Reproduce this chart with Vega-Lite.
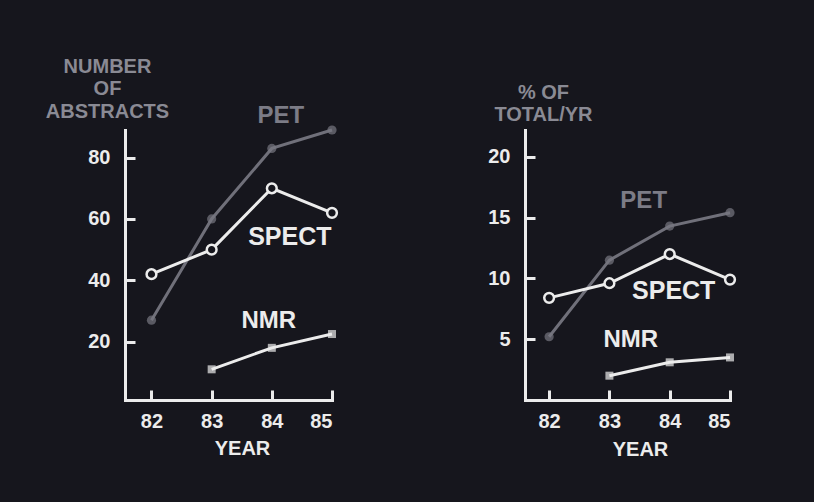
{
  "$schema": "https://vega.github.io/schema/vega-lite/v6.json",
  "background": "#16161d",
  "padding": {"left": 45, "top": 56, "right": 90, "bottom": 50},
  "bounds": "flush",
  "spacing": 193,
  "datasets": {
    "abstracts": [
      {"series": "PET", "year": 82, "value": 27},
      {"series": "PET", "year": 83, "value": 60},
      {"series": "PET", "year": 84, "value": 83},
      {"series": "PET", "year": 85, "value": 89},
      {"series": "SPECT", "year": 82, "value": 42},
      {"series": "SPECT", "year": 83, "value": 50},
      {"series": "SPECT", "year": 84, "value": 70},
      {"series": "SPECT", "year": 85, "value": 62},
      {"series": "NMR", "year": 83, "value": 11},
      {"series": "NMR", "year": 84, "value": 18},
      {"series": "NMR", "year": 85, "value": 22.5}
    ],
    "percent": [
      {"series": "PET", "year": 82, "value": 5.2},
      {"series": "PET", "year": 83, "value": 11.5},
      {"series": "PET", "year": 84, "value": 14.3},
      {"series": "PET", "year": 85, "value": 15.4},
      {"series": "SPECT", "year": 82, "value": 8.4},
      {"series": "SPECT", "year": 83, "value": 9.6},
      {"series": "SPECT", "year": 84, "value": 12},
      {"series": "SPECT", "year": 85, "value": 9.9},
      {"series": "NMR", "year": 83, "value": 2},
      {"series": "NMR", "year": 84, "value": 3.1},
      {"series": "NMR", "year": 85, "value": 3.5}
    ]
  },
  "config": {
    "view": {"stroke": null},
    "font": "Liberation Sans",
    "axis": {
      "grid": false,
      "domainColor": "#ececec",
      "domainWidth": 3,
      "domainCap": "square",
      "tickColor": "#ececec",
      "tickWidth": 3,
      "tickSize": -10,
      "labelColor": "#ececec",
      "labelFont": "Liberation Sans",
      "labelFontWeight": "bold",
      "labelFontSize": 20,
      "titleFont": "Liberation Sans",
      "titleFontWeight": "bold",
      "titleFontSize": 20,
      "titleAngle": 0,
      "titleAlign": "center",
      "titleBaseline": "middle"
    },
    "text": {"font": "Liberation Sans", "fontWeight": "bold", "fontSize": 24, "align": "center", "baseline": "middle"}
  },
  "hconcat": [
    {
      "width": 207,
      "height": 270,
      "data": {"name": "abstracts"},
      "encoding": {
        "x": {"field": "year", "type": "quantitative",
          "scale": {"domain": [81.56, 85], "nice": false, "zero": false},
          "axis": {"values": [82, 83, 84, 85], "format": "d", "labelPadding": 21, "title": "YEAR", "titleColor": "#ececec", "titleX": 117, "titleY": 48}},
        "y": {"field": "value", "type": "quantitative",
          "scale": {"domain": [1, 89], "nice": false, "zero": false},
          "axis": {"values": [20, 40, 60, 80], "labelPadding": 25, "title": ["NUMBER", "OF", "ABSTRACTS"], "titleColor": "#8a8a94", "titleX": -18, "titleY": -64, "titleLineHeight": 22.5, "titleFontSize": 20}}
      },
      "layer": [
        {"mark": {"type": "line", "strokeWidth": 3},
          "encoding": {"detail": {"field": "series"},
            "color": {"field": "series", "legend": null, "scale": {"domain": ["PET", "SPECT", "NMR"], "range": ["#70707a", "#ececec", "#ececec"]}}}},
        {"transform": [{"filter": "datum.series === 'PET'"}],
          "mark": {"type": "point", "shape": "circle", "filled": true, "size": 85, "color": "#787882"}},
        {"transform": [{"filter": "datum.series === 'SPECT'"}],
          "mark": {"type": "point", "shape": "circle", "filled": false, "size": 95, "stroke": "#ececec", "strokeWidth": 2.5, "fill": "#16161d", "fillOpacity": 1}},
        {"transform": [{"filter": "datum.series === 'NMR'"}],
          "mark": {"type": "point", "shape": "square", "filled": true, "size": 64, "color": "#ececec"}},
        {"transform": [{"filter": "datum.series === 'PET' && datum.year === 84"}],
          "mark": {"type": "text", "dx": 9, "dy": -32, "color": "#7c7c86"},
          "encoding": {"text": {"field": "series"}}},
        {"transform": [{"filter": "datum.series === 'SPECT' && datum.year === 84"}],
          "mark": {"type": "text", "dx": 18, "dy": 49, "color": "#ececec", "fontSize": 25},
          "encoding": {"text": {"field": "series"}}},
        {"transform": [{"filter": "datum.series === 'NMR' && datum.year === 84"}],
          "mark": {"type": "text", "dx": -3, "dy": -27, "color": "#ececec"},
          "encoding": {"text": {"field": "series"}}}
      ]
    },
    {
      "width": 205,
      "height": 270,
      "data": {"name": "percent"},
      "encoding": {
        "x": {"field": "year", "type": "quantitative",
          "scale": {"domain": [81.6, 85], "nice": false, "zero": false},
          "axis": {"values": [82, 83, 84, 85], "format": "d", "labelPadding": 21, "title": "YEAR", "titleColor": "#ececec", "titleX": 115, "titleY": 49}},
        "y": {"field": "value", "type": "quantitative",
          "scale": {"domain": [0, 22.2], "nice": false, "zero": false},
          "axis": {"values": [5, 10, 15, 20], "labelPadding": 25, "title": ["% OF", "TOTAL/YR"], "titleColor": "#8a8a94", "titleX": 18, "titleY": -38, "titleLineHeight": 22.5, "titleFontSize": 20}}
      },
      "layer": [
        {"mark": {"type": "line", "strokeWidth": 3},
          "encoding": {"detail": {"field": "series"},
            "color": {"field": "series", "legend": null, "scale": {"domain": ["PET", "SPECT", "NMR"], "range": ["#70707a", "#ececec", "#ececec"]}}}},
        {"transform": [{"filter": "datum.series === 'PET'"}],
          "mark": {"type": "point", "shape": "circle", "filled": true, "size": 85, "color": "#787882"}},
        {"transform": [{"filter": "datum.series === 'SPECT'"}],
          "mark": {"type": "point", "shape": "circle", "filled": false, "size": 95, "stroke": "#ececec", "strokeWidth": 2.5, "fill": "#16161d", "fillOpacity": 1}},
        {"transform": [{"filter": "datum.series === 'NMR'"}],
          "mark": {"type": "point", "shape": "square", "filled": true, "size": 64, "color": "#ececec"}},
        {"transform": [{"filter": "datum.series === 'PET' && datum.year === 84"}],
          "mark": {"type": "text", "dx": -26, "dy": -25, "color": "#7c7c86"},
          "encoding": {"text": {"field": "series"}}},
        {"transform": [{"filter": "datum.series === 'SPECT' && datum.year === 84"}],
          "mark": {"type": "text", "dx": 4, "dy": 37, "color": "#ececec", "fontSize": 25},
          "encoding": {"text": {"field": "series"}}},
        {"transform": [{"filter": "datum.series === 'NMR' && datum.year === 84"}],
          "mark": {"type": "text", "dx": -39, "dy": -22, "color": "#ececec"},
          "encoding": {"text": {"field": "series"}}}
      ]
    }
  ]
}
